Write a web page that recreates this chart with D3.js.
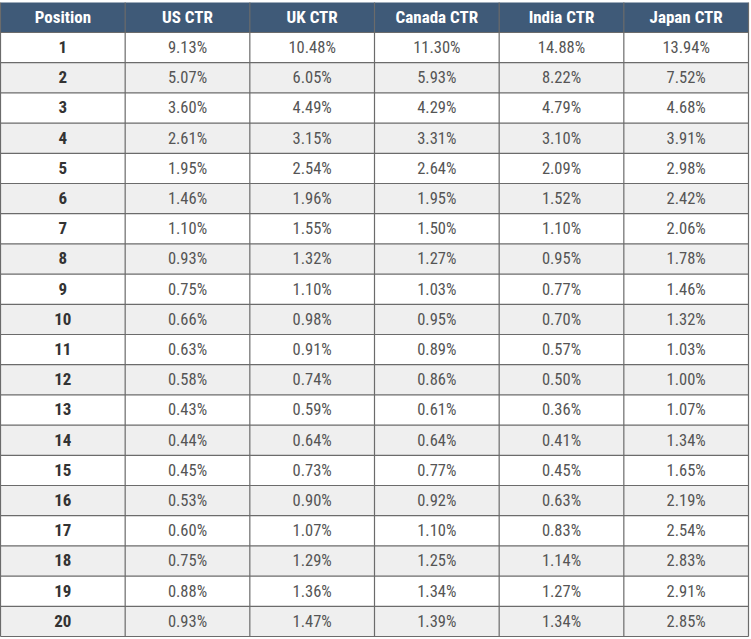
<!DOCTYPE html>
<html><head><meta charset="utf-8">
<script src="https://cdn.jsdelivr.net/npm/d3@7"></script>
<style>
html,body{margin:0;padding:0;background:#fff;}
svg{display:block;}
</style></head>
<body>
<svg id="chart" width="751" height="639"></svg>
<script>
const columns = ["Position","US CTR","UK CTR","Canada CTR","India CTR","Japan CTR"];
const positions = ["1","2","3","4","5","6","7","8","9","10","11","12","13","14","15","16","17","18","19","20"];
const usCTR = ["9.13%","5.07%","3.60%","2.61%","1.95%","1.46%","1.10%","0.93%","0.75%","0.66%","0.63%","0.58%","0.43%","0.44%","0.45%","0.53%","0.60%","0.75%","0.88%","0.93%"];
const ukCTR = ["10.48%","6.05%","4.49%","3.15%","2.54%","1.96%","1.55%","1.32%","1.10%","0.98%","0.91%","0.74%","0.59%","0.64%","0.73%","0.90%","1.07%","1.29%","1.36%","1.47%"];
const canadaCTR = ["11.30%","5.93%","4.29%","3.31%","2.64%","1.95%","1.50%","1.27%","1.03%","0.95%","0.89%","0.86%","0.61%","0.64%","0.77%","0.92%","1.10%","1.25%","1.34%","1.39%"];
const indiaCTR = ["14.88%","8.22%","4.79%","3.10%","2.09%","1.52%","1.10%","0.95%","0.77%","0.70%","0.57%","0.50%","0.36%","0.41%","0.45%","0.63%","0.83%","1.14%","1.27%","1.34%"];
const japanCTR = ["13.94%","7.52%","4.68%","3.91%","2.98%","2.42%","2.06%","1.78%","1.46%","1.32%","1.03%","1.00%","1.07%","1.34%","1.65%","2.19%","2.54%","2.83%","2.91%","2.85%"];

const series = [positions, usCTR, ukCTR, canadaCTR, indiaCTR, japanCTR];
const rows = positions.map((p,i)=>({i, cells: series.map((s,j)=>({j, v:s[i]}))}));

const svg = d3.select("#chart");
const L=0.5, R=748.5, T=2.5, HB=32.5, B=636.5;
const x = d3.scaleBand().domain(d3.range(columns.length)).range([L,R]);
const y = d3.scaleBand().domain(d3.range(rows.length)).range([HB,B]);

const font = "'Roboto Condensed','Liberation Sans Narrow','DejaVu Sans Condensed',Roboto,sans-serif";

// header
svg.append("rect").attr("x",L).attr("y",T).attr("width",R-L).attr("height",HB-T).attr("fill","#3f5a78");
svg.selectAll("text.h").data(columns).join("text").attr("class","h")
  .attr("x",(d,i)=>x(i)+x.bandwidth()/2).attr("y",(T+HB)/2+1)
  .attr("text-anchor","middle").attr("dominant-baseline","middle")
  .attr("font-family",font).attr("font-weight","bold").attr("font-size",17).attr("fill","#fff")
  .text(d=>d);

// rows
const g = svg.selectAll("g.row").data(rows).join("g").attr("class","row");
g.append("rect").attr("x",L).attr("y",d=>y(d.i)).attr("width",R-L).attr("height",y.bandwidth())
  .attr("fill",d=>d.i%2? "#efefef":"#ffffff");
g.each(function(r){
  d3.select(this).selectAll("text").data(r.cells).join("text")
    .attr("x",c=>x(c.j)+x.bandwidth()/2)
    .attr("y",y(r.i)+y.bandwidth()/2+1)
    .attr("text-anchor","middle").attr("dominant-baseline","middle")
    .attr("font-family",font).attr("font-size",c=>c.j===0?17:16.5)
    .attr("font-weight",c=>c.j===0?"bold":"normal")
    .attr("fill",c=>c.j===0?"#333":"#555")
    .text(c=>c.v);
});

// grid lines
const gridColor="#6b6b6b";
const hy = y.domain().map(i=>y(i)).concat([B]);
const vx = x.domain().map(j=>x(j)).concat([R]);
svg.selectAll("line.hl").data(hy).join("line").attr("class","hl")
  .attr("x1",L).attr("x2",R).attr("y1",d=>d).attr("y2",d=>d)
  .attr("stroke",gridColor).attr("stroke-width",1.2);
svg.selectAll("line.vl").data(vx).join("line").attr("class","vl")
  .attr("x1",d=>d).attr("x2",d=>d).attr("y1",T).attr("y2",B)
  .attr("stroke",gridColor).attr("stroke-width",1.2);
</script>
</body></html>
